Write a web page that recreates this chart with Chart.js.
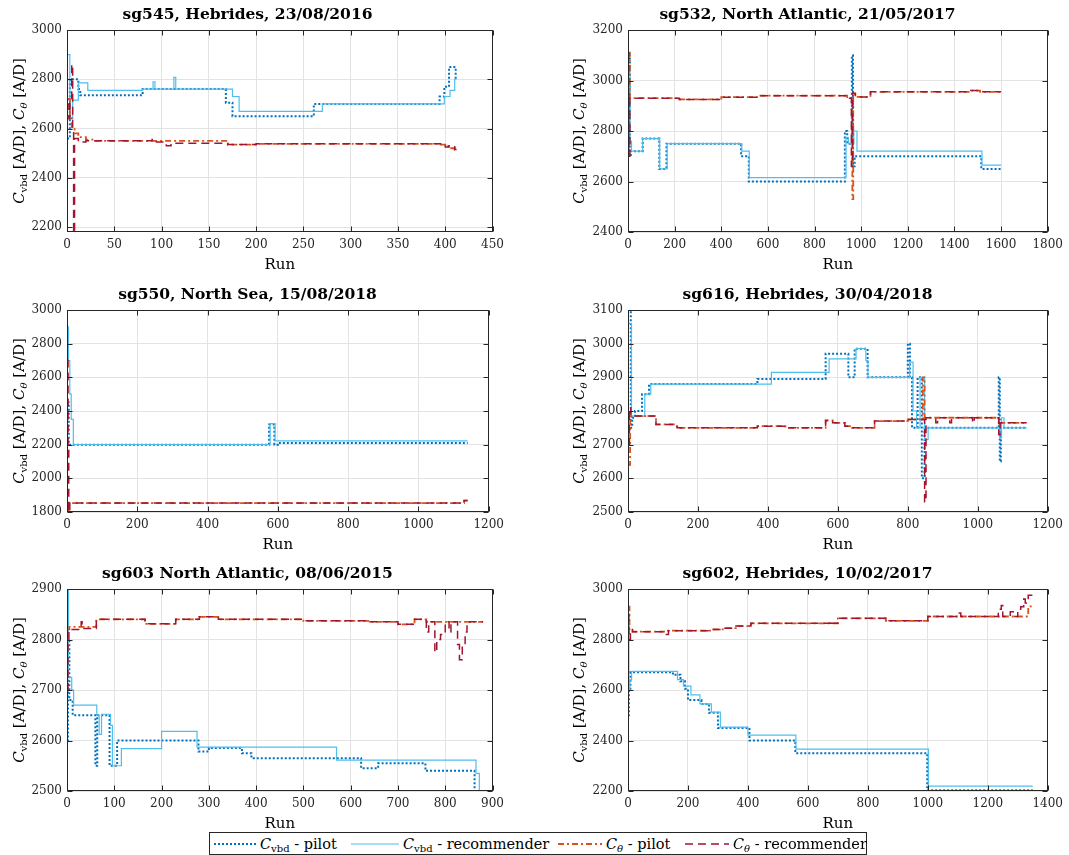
<!DOCTYPE html>
<html>
<head>
<meta charset="utf-8">
<script src="https://cdn.jsdelivr.net/npm/chart.js@4/dist/chart.umd.min.js"></script>
<style>
  body { margin: 0; background: #fff; width: 1069px; height: 855px; position: relative; overflow: hidden; font-family: "DejaVu Serif", serif; }
  canvas { position: absolute; }
  #legend { position: absolute; left: 209px; top: 832px; width: 656px; height: 21px; border: 1px solid #262626; background: #fff; font-size: 14.5px; color: #000; }
  #legend .item { position: absolute; top: 0; height: 21px; display: flex; align-items: center; white-space: nowrap; }
  #legend svg { margin-right: 4px; }
  #legend sub { font-size: 10px; vertical-align: -3px; line-height: 0; }
</style>
</head>
<body>
<canvas id="c545" width="510" height="274" style="left:0;top:0"></canvas>
<canvas id="c532" width="509" height="274" style="left:560px;top:0"></canvas>
<canvas id="c550" width="510" height="274" style="left:0;top:280px"></canvas>
<canvas id="c616" width="509" height="274" style="left:560px;top:280px"></canvas>
<canvas id="c603" width="510" height="274" style="left:0;top:559px"></canvas>
<canvas id="c602" width="509" height="274" style="left:560px;top:559px"></canvas>

<div id="legend">
  <span class="item" style="left:4px"><svg width="42" height="10"><line x1="0" y1="5" x2="42" y2="5" stroke="#0072BD" stroke-width="2" stroke-dasharray="2 2"/></svg><span><i>C</i><sub>vbd</sub> - pilot</span></span>
  <span class="item" style="left:141px"><svg width="48" height="10"><line x1="0" y1="5" x2="48" y2="5" stroke="#4DBEEE" stroke-width="1.2"/></svg><span><i>C</i><sub>vbd</sub> - recommender</span></span>
  <span class="item" style="left:348px"><svg width="44" height="10"><line x1="0" y1="5" x2="44" y2="5" stroke="#D95319" stroke-width="2" stroke-dasharray="6 3 2 3"/></svg><span><i>C</i><sub><i>θ</i></sub> - pilot</span></span>
  <span class="item" style="left:475px"><svg width="44" height="10"><line x1="0" y1="5" x2="44" y2="5" stroke="#A2142F" stroke-width="1.6" stroke-dasharray="8 5"/></svg><span><i>C</i><sub><i>θ</i></sub> - recommender</span></span>
</div>

<script>
// sg545, Hebrides, 23/08/2016
const sg545_vbdPilot_run = [0, 3, 12, 14, 80, 168, 175, 261, 394, 399, 404, 411, 412];
const sg545_vbdPilot = [2560, 2800, 2760, 2735, 2760, 2705, 2650, 2700, 2730, 2770, 2850, 2800, 2800];
const sg545_vbdRec_run = [0, 3, 6, 12, 22, 80, 91, 93, 113, 115, 175, 182, 270, 399, 405, 410, 412];
const sg545_vbdRec = [2900, 2640, 2715, 2785, 2755, 2760, 2790, 2760, 2808, 2760, 2730, 2670, 2700, 2730, 2755, 2800, 2800];
const sg545_thPilot_run = [0, 3, 5, 8, 12, 20, 30, 170, 200, 395, 400, 405, 410, 412];
const sg545_thPilot = [2720, 2650, 2600, 2580, 2565, 2555, 2550, 2535, 2538, 2535, 2528, 2520, 2515, 2515];
const sg545_thRec_run = [0, 2, 3, 5, 6, 7, 8, 12, 20, 90, 92, 105, 110, 170, 200, 398, 400, 404, 410, 412];
const sg545_thRec = [2700, 2640, 2720, 2860, 2600, 2150, 2560, 2545, 2550, 2555, 2545, 2530, 2540, 2535, 2538, 2538, 2525, 2530, 2515, 2515];

// sg532, North Atlantic, 21/05/2017
const sg532_vbdPilot_run = [0, 8, 12, 63, 134, 165, 485, 518, 930, 940, 960, 965, 972, 1515, 1600];
const sg532_vbdPilot = [3100, 2700, 2720, 2770, 2650, 2750, 2700, 2600, 2800, 2750, 3100, 2660, 2700, 2650, 2650];
const sg532_vbdRec_run = [0, 8, 15, 63, 136, 168, 488, 520, 935, 945, 968, 982, 1518, 1600];
const sg532_vbdRec = [3050, 2760, 2720, 2770, 2650, 2750, 2720, 2615, 2775, 2750, 2800, 2720, 2665, 2665];
const sg532_thPilot_run = [0, 8, 220, 400, 560, 940, 962, 966, 975, 1040, 1470, 1510, 1600];
const sg532_thPilot = [3110, 2930, 2925, 2934, 2940, 2930, 2530, 2945, 2935, 2955, 2960, 2955, 2955];
const sg532_thRec_run = [0, 3, 8, 220, 400, 560, 940, 958, 963, 975, 1040, 1470, 1510, 1600];
const sg532_thRec = [3110, 2700, 2930, 2925, 2934, 2940, 2930, 2660, 2950, 2935, 2955, 2960, 2955, 2955];

// sg550, North Sea, 15/08/2018
const sg550_vbdPilot_run = [0, 5, 575, 590, 600, 1140];
const sg550_vbdPilot = [2450, 2200, 2320, 2200, 2210, 2210];
const sg550_vbdRec_run = [0, 4, 8, 12, 18, 578, 592, 1140];
const sg550_vbdRec = [2900, 2700, 2500, 2350, 2200, 2325, 2222, 2222];
const sg550_thPilot_run = [0, 5, 1130, 1140];
const sg550_thPilot = [1800, 1853, 1868, 1868];
const sg550_thRec_run = [0, 3, 5, 8, 1130, 1140];
const sg550_thRec = [2700, 2200, 1800, 1853, 1868, 1868];

// sg616, Hebrides, 30/04/2018
const sg616_vbdPilot_run = [0, 8, 12, 20, 40, 60, 370, 565, 630, 648, 685, 800, 806, 812, 828, 840, 848, 1060, 1063, 1066, 1140];
const sg616_vbdPilot = [3100, 2750, 2780, 2800, 2850, 2880, 2895, 2970, 2900, 2985, 2900, 3000, 2900, 2750, 2900, 2600, 2750, 2900, 2650, 2750, 2750];
const sg616_vbdRec_run = [0, 10, 48, 65, 410, 575, 652, 680, 686, 805, 815, 825, 835, 848, 858, 1063, 1068, 1075, 1140];
const sg616_vbdRec = [3060, 2785, 2850, 2880, 2915, 2955, 2985, 2950, 2900, 2945, 2800, 2750, 2900, 2715, 2750, 2720, 2780, 2750, 2750];
const sg616_thPilot_run = [0, 6, 80, 140, 370, 450, 565, 585, 620, 640, 705, 800, 843, 848, 1060, 1140];
const sg616_thPilot = [2640, 2785, 2760, 2750, 2755, 2750, 2772, 2765, 2755, 2750, 2770, 2775, 2900, 2780, 2765, 2765];
const sg616_thRec_run = [0, 4, 8, 80, 140, 370, 450, 565, 585, 620, 640, 705, 800, 848, 852, 880, 885, 920, 925, 985, 990, 1060, 1064, 1140];
const sg616_thRec = [2700, 2810, 2785, 2760, 2750, 2755, 2750, 2772, 2765, 2755, 2750, 2770, 2775, 2530, 2780, 2765, 2780, 2765, 2780, 2765, 2780, 2730, 2765, 2765];

// sg603 North Atlantic, 08/06/2015
const sg603_vbdPilot_run = [0, 2, 5, 12, 60, 64, 90, 106, 278, 300, 370, 390, 622, 658, 758, 862, 870];
const sg603_vbdPilot = [2600, 2800, 2680, 2650, 2550, 2650, 2550, 2600, 2578, 2585, 2575, 2565, 2545, 2555, 2540, 2490, 2490];
const sg603_vbdRec_run = [0, 3, 10, 14, 63, 68, 73, 92, 96, 115, 200, 275, 570, 865, 872, 880];
const sg603_vbdRec = [2900, 2725, 2700, 2670, 2650, 2612, 2652, 2630, 2550, 2584, 2618, 2587, 2561, 2535, 2490, 2490];
const sg603_thPilot_run = [0, 5, 62, 165, 230, 280, 320, 500, 640, 700, 735, 760, 880];
const sg603_thPilot = [2820, 2825, 2840, 2831, 2840, 2845, 2840, 2837, 2835, 2830, 2840, 2835, 2835];
const sg603_thRec_run = [0, 2, 4, 30, 32, 62, 165, 230, 280, 320, 500, 640, 700, 735, 760, 765, 778, 782, 790, 800, 808, 812, 826, 830, 836, 842, 846, 852, 880];
const sg603_thRec = [2700, 2800, 2820, 2835, 2822, 2840, 2831, 2840, 2845, 2840, 2837, 2835, 2830, 2840, 2815, 2835, 2775, 2800, 2810, 2835, 2815, 2835, 2790, 2760, 2790, 2815, 2830, 2835, 2835];

// sg602, Hebrides, 10/02/2017
const sg602_vbdPilot_run = [0, 3, 8, 150, 175, 190, 200, 245, 270, 300, 405, 558, 998, 1350];
const sg602_vbdPilot = [2500, 2600, 2670, 2660, 2635, 2605, 2560, 2545, 2510, 2450, 2400, 2350, 2203, 2203];
const sg602_vbdRec_run = [0, 3, 6, 12, 165, 185, 210, 240, 278, 308, 400, 560, 1002, 1350];
const sg602_vbdRec = [2870, 2600, 2640, 2674, 2641, 2615, 2581, 2545, 2512, 2453, 2421, 2366, 2219, 2219];
const sg602_thPilot_run = [0, 5, 15, 130, 280, 320, 360, 410, 700, 860, 1000, 1335, 1350];
const sg602_thPilot = [2930, 2840, 2831, 2835, 2840, 2845, 2853, 2864, 2884, 2874, 2891, 2931, 2931];
const sg602_thRec_run = [0, 3, 8, 15, 128, 135, 280, 320, 360, 410, 675, 680, 700, 860, 1000, 1100, 1110, 1235, 1245, 1250, 1275, 1285, 1300, 1310, 1320, 1325, 1335, 1350];
const sg602_thRec = [2900, 2800, 2840, 2831, 2820, 2835, 2840, 2845, 2853, 2864, 2875, 2864, 2884, 2874, 2891, 2905, 2891, 2920, 2935, 2891, 2910, 2891, 2920, 2930, 2960, 2945, 2975, 2970];

Chart.defaults.font.family = "DejaVu Serif";
Chart.defaults.color = "#262626";

const FONT = "DejaVu Serif";
const GRID = "#e3e3e3";

// axes box with inward ticks, plus the y label with subscripts
const matlabAxes = {
  id: "matlabAxes",
  afterDraw(chart) {
    const ctx = chart.ctx;
    const a = chart.chartArea;
    const xs = chart.scales.x, ys = chart.scales.y;
    const L = Math.round(a.left) + 0.5, R = Math.round(a.right) - 0.5;
    const T = Math.round(a.top) + 0.5, B = Math.round(a.bottom) - 0.5;
    ctx.save();
    ctx.strokeStyle = "#262626";
    ctx.lineWidth = 1;
    ctx.strokeRect(L, T, R - L, B - T);
    ctx.beginPath();
    xs.ticks.forEach(t => {
      const px = Math.round(xs.getPixelForValue(t.value)) + 0.5;
      ctx.moveTo(px, B); ctx.lineTo(px, B - 5);
      ctx.moveTo(px, T); ctx.lineTo(px, T + 5);
    });
    ys.ticks.forEach(t => {
      const py = Math.round(ys.getPixelForValue(t.value)) + 0.5;
      ctx.moveTo(L, py); ctx.lineTo(L + 5, py);
      ctx.moveTo(R, py); ctx.lineTo(R - 5, py);
    });
    ctx.stroke();

    const parts = [
      ["C", "italic 15px " + FONT, 0],
      ["vbd", "10px " + FONT, 4],
      [" [A/D], ", "15px " + FONT, 0],
      ["C", "italic 15px " + FONT, 0],
      ["θ", "italic 10px " + FONT, 4],
      [" [A/D]", "15px " + FONT, 0]
    ];
    let total = 0;
    parts.forEach(p => { ctx.font = p[1]; total += ctx.measureText(p[0]).width; });
    ctx.translate(20, (a.top + a.bottom) / 2);
    ctx.rotate(-Math.PI / 2);
    ctx.fillStyle = "#000";
    ctx.textBaseline = "middle";
    let x = -total / 2;
    parts.forEach(p => {
      ctx.font = p[1];
      ctx.fillText(p[0], x, p[2]);
      x += ctx.measureText(p[0]).width;
    });
    ctx.restore();
  }
};

function pts(runs, vals) {
  return runs.map((r, i) => ({ x: r, y: vals[i] }));
}

function evenTicks(sc, step) {
  const list = [];
  for (let v = Math.ceil(sc.min / step) * step; v <= sc.max + 1e-9; v += step) list.push({ value: v });
  sc.ticks = list;
}

function makeChart(id, title, xMax, xStep, yMin, yMax, yStep, yW, padR, s) {
  new Chart(id, {
    type: "line",
    data: {
      datasets: [
        { label: "Cvbd - pilot", data: pts(s[0], s[1]), borderColor: "#0072BD", borderWidth: 2, borderDash: [2, 2], order: 3 },
        { label: "Cvbd - recommender", data: pts(s[2], s[3]), borderColor: "#4DBEEE", borderWidth: 1.2, order: 2 },
        { label: "Cθ - pilot", data: pts(s[4], s[5]), borderColor: "#D95319", borderWidth: 1.8, borderDash: [6, 3, 2, 3], order: 1 },
        { label: "Cθ - recommender", data: pts(s[6], s[7]), borderColor: "#A2142F", borderWidth: 1.5, borderDash: [8, 5], order: 0 }
      ]
    },
    options: {
      responsive: false,
      animation: false,
      datasets: { line: { stepped: true, pointRadius: 0, fill: false } },
      layout: { padding: { left: 0, right: padR, top: 0, bottom: 0 } },
      plugins: {
        legend: { display: false },
        tooltip: { enabled: false },
        title: {
          display: true,
          text: title,
          color: "#000",
          font: { family: FONT, size: 15.5, weight: "bold" },
          padding: { top: 6, bottom: 5.4 }
        }
      },
      scales: {
        x: {
          type: "linear",
          min: 0,
          max: xMax,
          border: { display: false },
          grid: { color: GRID, drawTicks: false },
          ticks: { padding: 6, autoSkip: false, maxRotation: 0, font: { size: 12 }, color: "#262626", callback: v => String(v) },
          afterBuildTicks(sc) { evenTicks(sc, xStep); },
          title: { display: true, text: "Run", color: "#000", font: { size: 15 }, padding: 0 },
          afterFit(sc) { sc.height = 42; }
        },
        y: {
          min: yMin,
          max: yMax,
          border: { display: false },
          grid: { color: GRID, drawTicks: false },
          ticks: { padding: 5, font: { size: 12 }, color: "#262626", callback: v => String(v) },
          afterBuildTicks(sc) { evenTicks(sc, yStep); },
          afterFit(sc) { sc.width = yW; }
        }
      }
    },
    plugins: [matlabAxes]
  });
}

makeChart("c545", "sg545, Hebrides, 23/08/2016", 450, 50, 2180, 3000, 200, 67, 15,
  [sg545_vbdPilot_run, sg545_vbdPilot, sg545_vbdRec_run, sg545_vbdRec, sg545_thPilot_run, sg545_thPilot, sg545_thRec_run, sg545_thRec]);
makeChart("c532", "sg532, North Atlantic, 21/05/2017", 1800, 200, 2400, 3200, 200, 68, 14,
  [sg532_vbdPilot_run, sg532_vbdPilot, sg532_vbdRec_run, sg532_vbdRec, sg532_thPilot_run, sg532_thPilot, sg532_thRec_run, sg532_thRec]);
makeChart("c550", "sg550, North Sea, 15/08/2018", 1200, 200, 1800, 3000, 200, 67, 15,
  [sg550_vbdPilot_run, sg550_vbdPilot, sg550_vbdRec_run, sg550_vbdRec, sg550_thPilot_run, sg550_thPilot, sg550_thRec_run, sg550_thRec]);
makeChart("c616", "sg616, Hebrides, 30/04/2018", 1200, 200, 2500, 3100, 100, 68, 14,
  [sg616_vbdPilot_run, sg616_vbdPilot, sg616_vbdRec_run, sg616_vbdRec, sg616_thPilot_run, sg616_thPilot, sg616_thRec_run, sg616_thRec]);
makeChart("c603", "sg603 North Atlantic, 08/06/2015", 900, 100, 2500, 2900, 100, 67, 15,
  [sg603_vbdPilot_run, sg603_vbdPilot, sg603_vbdRec_run, sg603_vbdRec, sg603_thPilot_run, sg603_thPilot, sg603_thRec_run, sg603_thRec]);
makeChart("c602", "sg602, Hebrides, 10/02/2017", 1400, 200, 2200, 3000, 200, 68, 14,
  [sg602_vbdPilot_run, sg602_vbdPilot, sg602_vbdRec_run, sg602_vbdRec, sg602_thPilot_run, sg602_thPilot, sg602_thRec_run, sg602_thRec]);
</script>
</body>
</html>
